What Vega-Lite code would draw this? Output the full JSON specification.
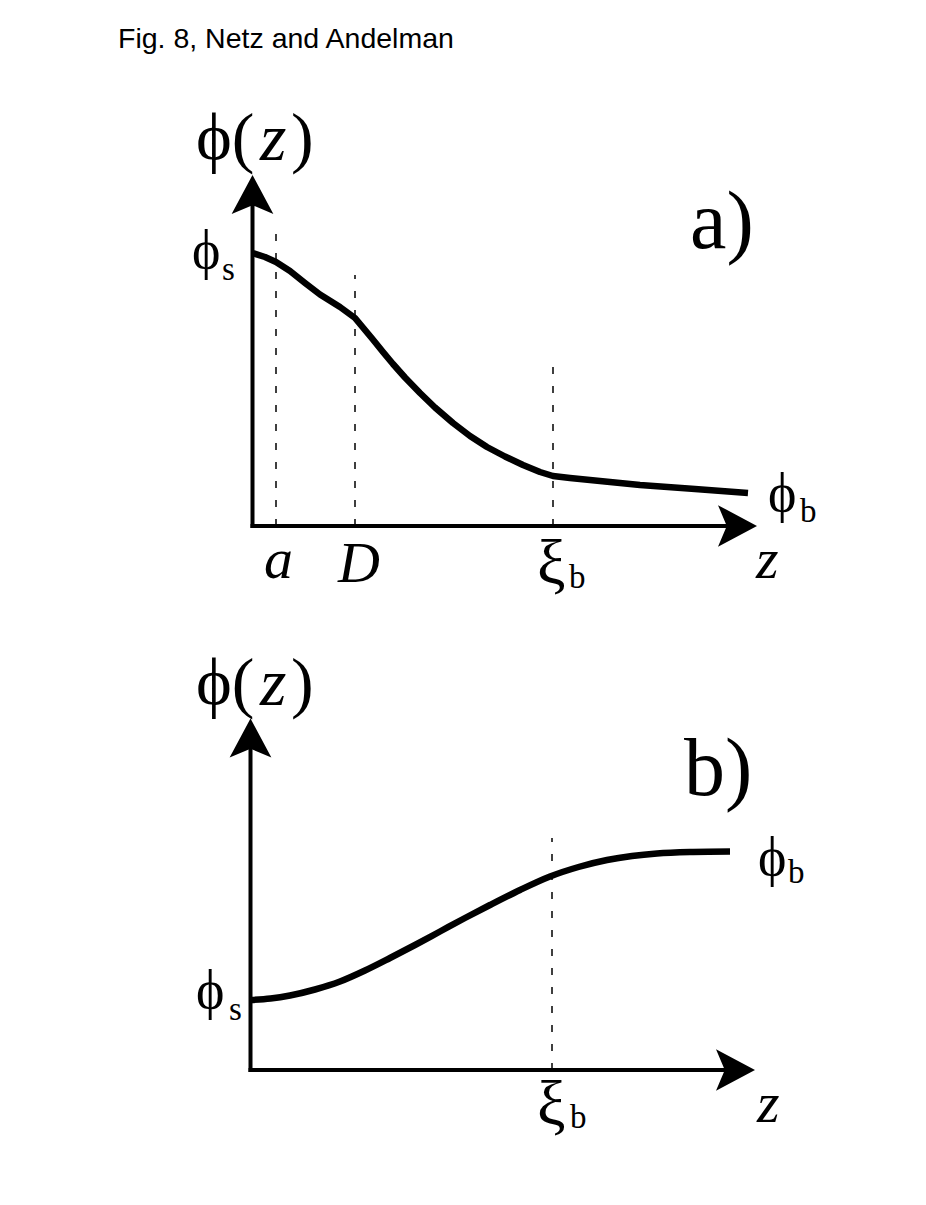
{
  "$schema": "https://vega.github.io/schema/vega-lite/v6.json",
  "padding": 0,
  "spacing": 0,
  "bounds": "flush",
  "config": {"view": {"stroke": null}},
  "datasets": {
    "curveA": [
      {"z": 0, "phi": 5.46}, {"z": 0.25, "phi": 5.38}, {"z": 0.47, "phi": 5.28}, {"z": 0.75, "phi": 5.1}, {"z": 1.05, "phi": 4.86},
      {"z": 1.35, "phi": 4.63}, {"z": 1.75, "phi": 4.38}, {"z": 2.05, "phi": 4.16}, {"z": 2.2, "phi": 3.98}, {"z": 2.4, "phi": 3.74},
      {"z": 2.61, "phi": 3.48}, {"z": 2.81, "phi": 3.24}, {"z": 3.05, "phi": 2.97}, {"z": 3.35, "phi": 2.66}, {"z": 3.65, "phi": 2.37},
      {"z": 4.01, "phi": 2.06}, {"z": 4.35, "phi": 1.8}, {"z": 4.69, "phi": 1.58}, {"z": 5.05, "phi": 1.39},
      {"z": 5.41, "phi": 1.22}, {"z": 5.75, "phi": 1.08}, {"z": 6.01, "phi": 1.0}, {"z": 6.35, "phi": 0.96}, {"z": 7.05, "phi": 0.89},
      {"z": 7.75, "phi": 0.82}, {"z": 8.85, "phi": 0.74}, {"z": 9.91, "phi": 0.66}
    ],
    "guidesA": [
      {"z": 0.47, "phi": 0, "phi2": 5.92},
      {"z": 2.05, "phi": 0, "phi2": 5.02},
      {"z": 6.01, "phi": 0, "phi2": 3.32}
    ],
    "axesA": [
      {"z": 0, "phi": 0, "z2": 9.6, "phi2": 0},
      {"z": 0, "phi": 0, "z2": 0, "phi2": 6.55}
    ],
    "arrowsA": [
      {"z": 9.7, "phi": 0, "dir": "right"},
      {"z": 0, "phi": 6.63, "dir": "up"}
    ],
    "labelsA": [
      {"label": "Fig. 8, Netz and Andelman", "kind": "caption", "z": -2.69, "phi": 9.56},
      {"label": "ϕ(", "kind": "axisTitle", "z": -1.13, "phi": 7.32},
      {"label": ")", "kind": "axisTitle", "z": 0.77, "phi": 7.32},
      {"label": "z", "kind": "axisTitleItalic", "z": 0.15, "phi": 7.32},
      {"label": "a)", "kind": "panel", "z": 8.75, "phi": 5.56},
      {"label": "ϕ", "kind": "symbol", "z": -1.21, "phi": 5.16},
      {"label": "ϕ", "kind": "symbol", "z": 10.31, "phi": 0.3},
      {"label": "ξ", "kind": "xi", "z": 5.69, "phi": -1.16},
      {"label": "a", "kind": "italic", "z": 0.23, "phi": -1.04},
      {"label": "D", "kind": "italic", "z": 1.71, "phi": -1.12},
      {"label": "z", "kind": "italic", "z": 10.07, "phi": -1.04},
      {"label": "s", "kind": "sub", "z": -0.61, "phi": 4.92},
      {"label": "b", "kind": "sub", "z": 10.95, "phi": 0.08},
      {"label": "b", "kind": "sub", "z": 6.33, "phi": -1.24}
    ],
    "curveB": [
      {"z": 0, "phi": 1.4}, {"z": 0.4, "phi": 1.43}, {"z": 0.79, "phi": 1.49}, {"z": 1.29, "phi": 1.61}, {"z": 1.79, "phi": 1.77},
      {"z": 2.29, "phi": 1.99}, {"z": 2.79, "phi": 2.24}, {"z": 3.29, "phi": 2.5}, {"z": 3.79, "phi": 2.77}, {"z": 4.29, "phi": 3.04},
      {"z": 4.79, "phi": 3.3}, {"z": 5.39, "phi": 3.6}, {"z": 5.99, "phi": 3.87}, {"z": 6.56, "phi": 4.06}, {"z": 7.13, "phi": 4.2},
      {"z": 7.63, "phi": 4.28}, {"z": 8.13, "phi": 4.33}, {"z": 8.85, "phi": 4.36}, {"z": 9.59, "phi": 4.37}
    ],
    "guidesB": [
      {"z": 6.03, "phi": 0, "phi2": 4.64}
    ],
    "axesB": [
      {"z": 0, "phi": 0, "z2": 9.6, "phi2": 0},
      {"z": 0, "phi": 0, "z2": 0, "phi2": 6.55}
    ],
    "arrowsB": [
      {"z": 9.7, "phi": 0, "dir": "right"},
      {"z": 0, "phi": 6.64, "dir": "up"}
    ],
    "labelsB": [
      {"label": "ϕ(", "kind": "axisTitle", "z": -1.09, "phi": 7.3},
      {"label": ")", "kind": "axisTitle", "z": 0.81, "phi": 7.3},
      {"label": "z", "kind": "axisTitleItalic", "z": 0.19, "phi": 7.3},
      {"label": "b)", "kind": "panel", "z": 8.67, "phi": 5.5},
      {"label": "ϕ", "kind": "symbol", "z": -1.09, "phi": 1.24},
      {"label": "ϕ", "kind": "symbol", "z": 10.15, "phi": 3.9},
      {"label": "ξ", "kind": "xi", "z": 5.73, "phi": -1.1},
      {"label": "z", "kind": "italic", "z": 10.13, "phi": -1.04},
      {"label": "s", "kind": "sub", "z": -0.43, "phi": 1.0},
      {"label": "b", "kind": "sub", "z": 10.75, "phi": 3.74},
      {"label": "b", "kind": "sub", "z": 6.39, "phi": -1.16}
    ]
  },
  "vconcat": [
    {
      "width": 926,
      "height": 600,
      "encoding": {
        "x": {"field": "z", "type": "quantitative", "scale": {"domain": [-5.05, 13.47], "nice": false, "zero": false}, "axis": null},
        "y": {"field": "phi", "type": "quantitative", "scale": {"domain": [-1.48, 10.52], "nice": false, "zero": false}, "axis": null}
      },
      "layer": [
        {
          "data": {"name": "guidesA"},
          "mark": {"type": "rule", "color": "black", "strokeWidth": 1.5, "strokeDash": [7, 12]},
          "encoding": {"y2": {"field": "phi2"}}
        },
        {
          "data": {"name": "axesA"},
          "mark": {"type": "rule", "color": "black", "strokeWidth": 4, "strokeCap": "square"},
          "encoding": {"x2": {"field": "z2"}, "y2": {"field": "phi2"}}
        },
        {
          "data": {"name": "curveA"},
          "mark": {"type": "line", "color": "black", "strokeWidth": 6.5, "interpolate": "linear", "strokeJoin": "round"},
          "encoding": {}
        },
        {
          "data": {"name": "arrowsA"},
          "mark": {"type": "point", "filled": true, "color": "black", "opacity": 1, "size": 1521, "strokeWidth": 0},
          "encoding": {
            "shape": {"field": "dir", "type": "nominal", "legend": null,
              "scale": {"domain": ["right", "up"], "range": ["M1,0L-1,-1.07L-0.55,0L-1,1.07Z", "M0,-1L1.07,1L0,0.55L-1.07,1Z"]}}
          }
        },
        {
          "data": {"name": "labelsA"},
          "transform": [{"filter": "datum.kind === 'caption'"}],
          "mark": {"type": "text", "font": "Liberation Sans", "fontSize": 28.5, "align": "left", "baseline": "alphabetic", "color": "black"},
          "encoding": {"text": {"field": "label"}}
        },
        {
          "data": {"name": "labelsA"},
          "transform": [{"filter": "datum.kind === 'axisTitle'"}],
          "mark": {"type": "text", "font": "Liberation Serif", "fontSize": 68, "align": "left", "baseline": "alphabetic", "color": "black"},
          "encoding": {"text": {"field": "label"}}
        },
        {
          "data": {"name": "labelsA"},
          "transform": [{"filter": "datum.kind === 'axisTitleItalic'"}],
          "mark": {"type": "text", "font": "Liberation Serif", "fontStyle": "italic", "fontSize": 68, "align": "left", "baseline": "alphabetic", "color": "black"},
          "encoding": {"text": {"field": "label"}}
        },
        {
          "data": {"name": "labelsA"},
          "transform": [{"filter": "datum.kind === 'panel'"}],
          "mark": {"type": "text", "font": "Liberation Serif", "fontSize": 82, "align": "left", "baseline": "alphabetic", "color": "black"},
          "encoding": {"text": {"field": "label"}}
        },
        {
          "data": {"name": "labelsA"},
          "transform": [{"filter": "datum.kind === 'symbol'"}],
          "mark": {"type": "text", "font": "Liberation Serif", "fontSize": 54, "align": "left", "baseline": "alphabetic", "color": "black"},
          "encoding": {"text": {"field": "label"}}
        },
        {
          "data": {"name": "labelsA"},
          "transform": [{"filter": "datum.kind === 'xi'"}],
          "mark": {"type": "text", "font": "Liberation Serif", "fontSize": 64, "align": "left", "baseline": "alphabetic", "color": "black"},
          "encoding": {"text": {"field": "label"}}
        },
        {
          "data": {"name": "labelsA"},
          "transform": [{"filter": "datum.kind === 'italic'"}],
          "mark": {"type": "text", "font": "Liberation Serif", "fontStyle": "italic", "fontSize": 58, "align": "left", "baseline": "alphabetic", "color": "black"},
          "encoding": {"text": {"field": "label"}}
        },
        {
          "data": {"name": "labelsA"},
          "transform": [{"filter": "datum.kind === 'sub'"}],
          "mark": {"type": "text", "font": "Liberation Serif", "fontSize": 33, "align": "left", "baseline": "alphabetic", "color": "black"},
          "encoding": {"text": {"field": "label"}}
        }
      ]
    },
    {
      "width": 926,
      "height": 605,
      "encoding": {
        "x": {"field": "z", "type": "quantitative", "scale": {"domain": [-5.01, 13.51], "nice": false, "zero": false}, "axis": null},
        "y": {"field": "phi", "type": "quantitative", "scale": {"domain": [-2.7, 9.4], "nice": false, "zero": false}, "axis": null}
      },
      "layer": [
        {
          "data": {"name": "guidesB"},
          "mark": {"type": "rule", "color": "black", "strokeWidth": 1.5, "strokeDash": [7, 12]},
          "encoding": {"y2": {"field": "phi2"}}
        },
        {
          "data": {"name": "axesB"},
          "mark": {"type": "rule", "color": "black", "strokeWidth": 4, "strokeCap": "square"},
          "encoding": {"x2": {"field": "z2"}, "y2": {"field": "phi2"}}
        },
        {
          "data": {"name": "curveB"},
          "mark": {"type": "line", "color": "black", "strokeWidth": 6.5, "interpolate": "monotone"},
          "encoding": {}
        },
        {
          "data": {"name": "arrowsB"},
          "mark": {"type": "point", "filled": true, "color": "black", "opacity": 1, "size": 1521, "strokeWidth": 0},
          "encoding": {
            "shape": {"field": "dir", "type": "nominal", "legend": null,
              "scale": {"domain": ["right", "up"], "range": ["M1,0L-1,-1.07L-0.55,0L-1,1.07Z", "M0,-1L1.07,1L0,0.55L-1.07,1Z"]}}
          }
        },
        {
          "data": {"name": "labelsB"},
          "transform": [{"filter": "datum.kind === 'axisTitle'"}],
          "mark": {"type": "text", "font": "Liberation Serif", "fontSize": 68, "align": "left", "baseline": "alphabetic", "color": "black"},
          "encoding": {"text": {"field": "label"}}
        },
        {
          "data": {"name": "labelsB"},
          "transform": [{"filter": "datum.kind === 'axisTitleItalic'"}],
          "mark": {"type": "text", "font": "Liberation Serif", "fontStyle": "italic", "fontSize": 68, "align": "left", "baseline": "alphabetic", "color": "black"},
          "encoding": {"text": {"field": "label"}}
        },
        {
          "data": {"name": "labelsB"},
          "transform": [{"filter": "datum.kind === 'panel'"}],
          "mark": {"type": "text", "font": "Liberation Serif", "fontSize": 82, "align": "left", "baseline": "alphabetic", "color": "black"},
          "encoding": {"text": {"field": "label"}}
        },
        {
          "data": {"name": "labelsB"},
          "transform": [{"filter": "datum.kind === 'symbol'"}],
          "mark": {"type": "text", "font": "Liberation Serif", "fontSize": 54, "align": "left", "baseline": "alphabetic", "color": "black"},
          "encoding": {"text": {"field": "label"}}
        },
        {
          "data": {"name": "labelsB"},
          "transform": [{"filter": "datum.kind === 'xi'"}],
          "mark": {"type": "text", "font": "Liberation Serif", "fontSize": 64, "align": "left", "baseline": "alphabetic", "color": "black"},
          "encoding": {"text": {"field": "label"}}
        },
        {
          "data": {"name": "labelsB"},
          "transform": [{"filter": "datum.kind === 'italic'"}],
          "mark": {"type": "text", "font": "Liberation Serif", "fontStyle": "italic", "fontSize": 58, "align": "left", "baseline": "alphabetic", "color": "black"},
          "encoding": {"text": {"field": "label"}}
        },
        {
          "data": {"name": "labelsB"},
          "transform": [{"filter": "datum.kind === 'sub'"}],
          "mark": {"type": "text", "font": "Liberation Serif", "fontSize": 33, "align": "left", "baseline": "alphabetic", "color": "black"},
          "encoding": {"text": {"field": "label"}}
        }
      ]
    }
  ]
}
